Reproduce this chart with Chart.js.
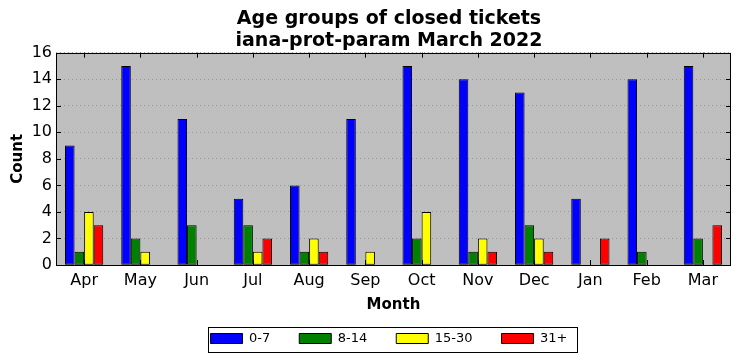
<!DOCTYPE html>
<html>
<head>
<meta charset="utf-8">
<script src="https://cdn.jsdelivr.net/npm/chart.js@4.4.1/dist/chart.umd.min.js"></script>
<style>
  html, body { margin: 0; padding: 0; background: #fff; }
  #wrap { width: 740px; height: 361px; }
</style>
</head>
<body>
<div id="wrap"><canvas id="c" width="740" height="361"></canvas></div>
<script>
// data
var months = ["Apr", "May", "Jun", "Jul", "Aug", "Sep", "Oct", "Nov", "Dec", "Jan", "Feb", "Mar"];
var age0to7   = [9, 15, 11, 5, 6, 11, 15, 14, 13, 5, 14, 15];
var age8to14  = [1, 2, 3, 3, 1, 0, 2, 1, 3, 0, 1, 2];
var age15to30 = [4, 1, 0, 1, 2, 1, 4, 2, 2, 0, 0, 0];
var age31plus = [3, 0, 0, 2, 1, 0, 0, 1, 1, 2, 0, 3];
var yTicks = [0, 2, 4, 6, 8, 10, 12, 14, 16];

var FONT = "'DejaVu Sans', sans-serif";

// grey plot background, frame and inward ticks like the old matplotlib look
var framePlugin = {
	id: 'frame',
	beforeLayout: function(chart) {
		// legend padding is wide for the item spacing, keep its height small
		var lg = chart.legend;
		if (lg && !lg._patched) {
			var fit = lg.fit;
			lg.fit = function() { fit.call(this); this.height = 50; };
			lg._patched = true;
		}
	},
	afterLayout: function(chart) {
		// title and legend are centred on the plot, not on the canvas
		var a = chart.chartArea;
		var shift = (a.left + a.right) / 2 - chart.width / 2;
		var tb = chart.titleBlock, lg = chart.legend;
		if (tb) { tb.left += shift; tb.right += shift; }
		if (lg) { lg.left += shift; lg.right += shift; lg.top -= 8; lg.bottom -= 8; }
	},
	beforeDraw: function(chart) {
		var a = chart.chartArea, ctx = chart.ctx;
		ctx.save();
		ctx.fillStyle = '#bfbfbf';
		ctx.fillRect(a.left, a.top, a.right - a.left, a.bottom - a.top);
		ctx.restore();
	},
	afterDraw: function(chart) {
		var a = chart.chartArea, ctx = chart.ctx;
		var xs = chart.scales.x, ys = chart.scales.y;
		ctx.save();
		ctx.strokeStyle = '#000';
		ctx.lineWidth = 1;
		ctx.beginPath();
		for (var i = 0; i < months.length; i++) {
			var px = Math.round(xs.getPixelForValue(i)) + 0.5;
			ctx.moveTo(px, a.bottom); ctx.lineTo(px, a.bottom - 5);
			ctx.moveTo(px, a.top); ctx.lineTo(px, a.top + 5);
		}
		for (var j = 0; j < yTicks.length; j++) {
			var py = Math.round(ys.getPixelForValue(yTicks[j])) + 0.5;
			ctx.moveTo(a.left, py); ctx.lineTo(a.left + 5, py);
			ctx.moveTo(a.right, py); ctx.lineTo(a.right - 5, py);
		}
		ctx.stroke();
		ctx.strokeRect(Math.round(a.left) + 0.5, Math.round(a.top) + 0.5,
			Math.round(a.right - a.left) - 1, Math.round(a.bottom - a.top));
		// box around the legend
		var lg = chart.legend;
		if (lg && lg.legendHitBoxes.length) {
			var hb = lg.legendHitBoxes;
			var last = hb[hb.length - 1];
			var l = hb[0].left, r = last.left + last.width;
			var cy = hb[0].top + hb[0].height / 2;
			ctx.strokeRect(Math.round(l - 3) + 0.5, Math.round(cy - 12) + 0.5,
				Math.round(r - l + 12), 25);
		}
		ctx.restore();
	}
};

function ds(label, data, color) {
	return {
		label: label,
		data: data,
		backgroundColor: color,
		borderColor: '#000',
		borderWidth: 1,
		borderSkipped: false
	};
}

new Chart(document.getElementById('c'), {
	type: 'bar',
	data: {
		labels: months,
		datasets: [
			ds('0-7', age0to7, '#0000ff'),
			ds('8-14', age8to14, '#008000'),
			ds('15-30', age15to30, '#ffff00'),
			ds('31+', age31plus, '#ff0000')
		]
	},
	options: {
		responsive: false,
		animation: false,
		layout: { padding: { left: 0, right: 9, top: 0, bottom: 0 } },
		datasets: { bar: { categoryPercentage: 0.68, barPercentage: 1.0 } },
		plugins: {
			tooltip: { enabled: false },
			title: {
				display: true,
				text: ['Age groups of closed tickets', 'iana-prot-param March 2022'],
				color: '#000',
				font: { family: FONT, size: 19, weight: 'bold', lineHeight: 1.15 },
				padding: { top: 8, bottom: 1 }
			},
			legend: {
				position: 'bottom',
				labels: {
					color: '#000',
					font: { family: FONT, size: 13 },
					boxWidth: 32,
					boxHeight: 10,
					padding: 29,
					useBorderRadius: false
				}
			}
		},
		scales: {
			x: {
				offset: true,
				afterFit: function(s) { s.height = 46; },
				grid: { display: false, drawTicks: false },
				border: { display: false },
				ticks: { color: '#000', font: { family: FONT, size: 16 }, padding: 6 },
				title: {
					display: true, text: 'Month', color: '#000',
					font: { family: FONT, size: 15, weight: 'bold' },
					padding: { top: 3, bottom: -3 }
				}
			},
			y: {
				min: 0, max: 16,
				afterFit: function(s) { s.width = 56; },
				grid: { color: '#7a7a7a', lineWidth: 0.6, drawTicks: false },
				border: { display: false, dash: [1, 3] },
				ticks: { stepSize: 2, color: '#000', font: { family: FONT, size: 16 }, padding: 4 },
				title: {
					display: true, text: 'Count', color: '#000',
					font: { family: FONT, size: 15, weight: 'bold' },
					padding: { top: 9, bottom: 0 }
				}
			}
		}
	},
	plugins: [framePlugin]
});
</script>
</body>
</html>
